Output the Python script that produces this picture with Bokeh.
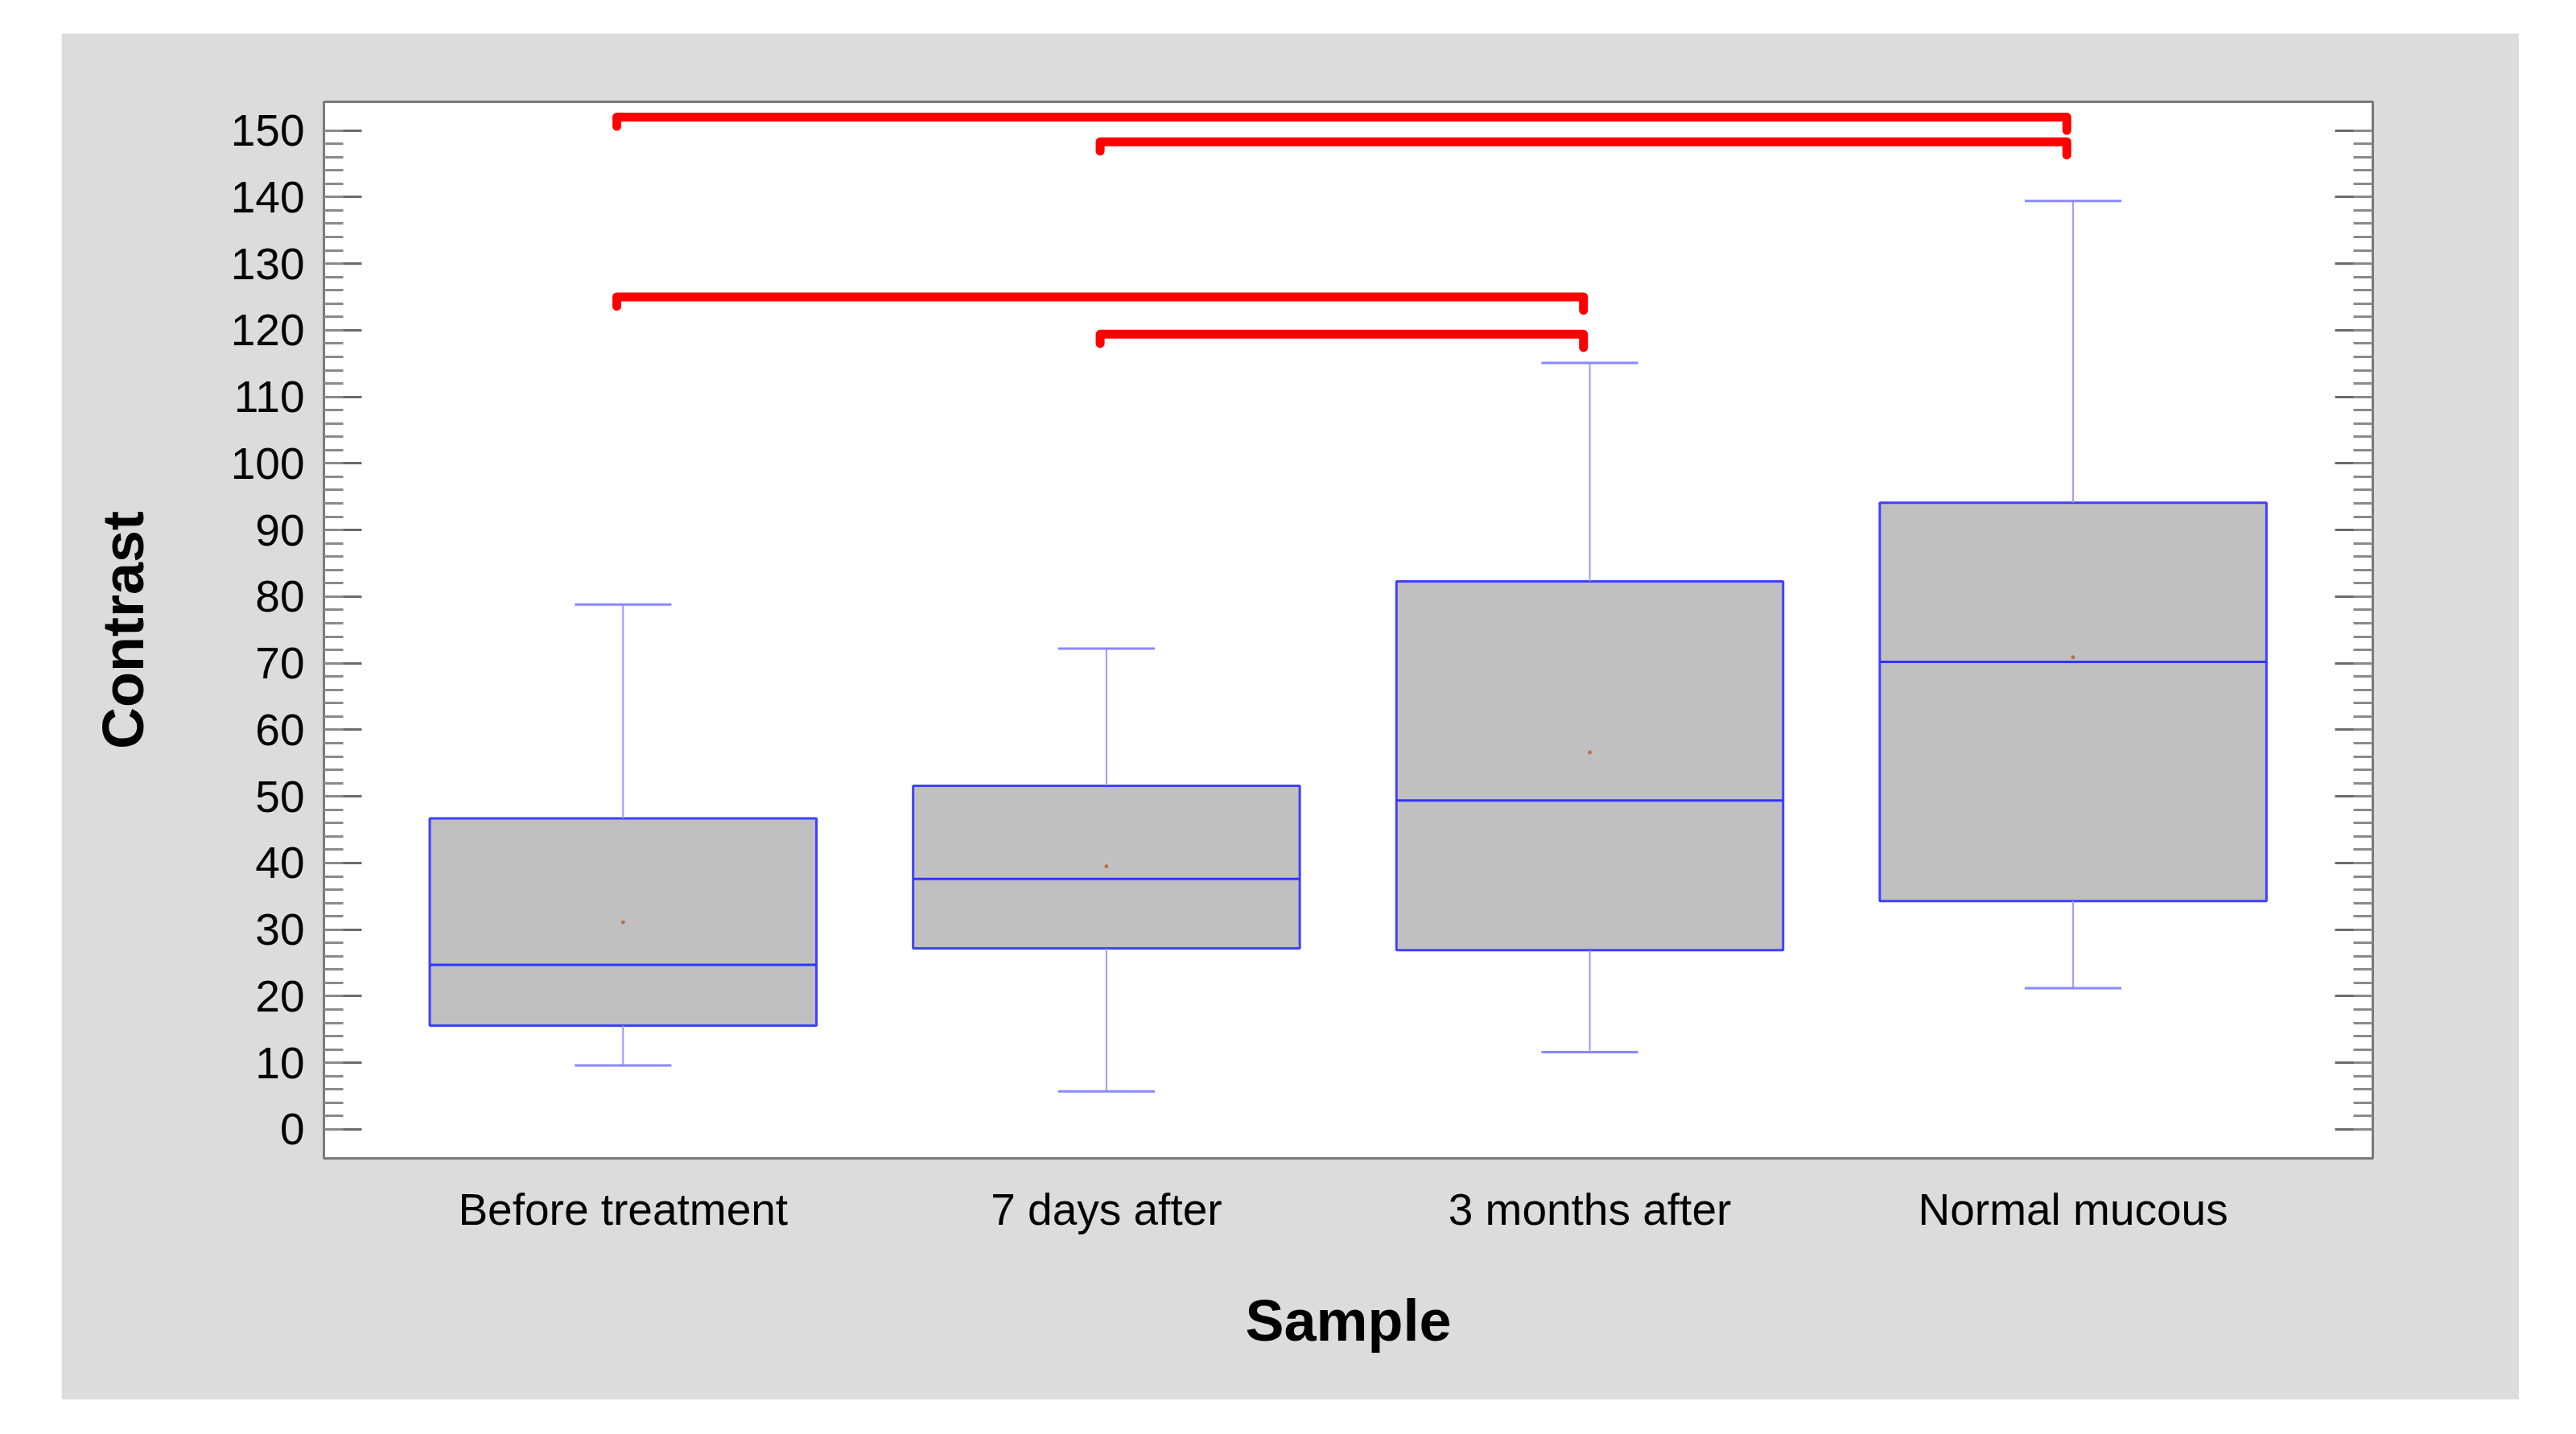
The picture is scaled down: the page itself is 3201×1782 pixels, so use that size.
from bokeh.plotting import figure
from bokeh.models import Range1d, FixedTicker, LinearAxis
from bokeh.embed import file_html
from bokeh.resources import INLINE

categories = ["Before treatment", "7 days after", "3 months after", "Normal mucous"]
lower_whisker = [9.6, 5.7, 11.6, 21.2]
q1 = [15.6, 27.2, 26.9, 34.3]
median = [24.7, 37.6, 49.4, 70.2]
q3 = [46.7, 51.6, 82.3, 94.1]
upper_whisker = [78.8, 72.2, 115.1, 139.4]
mean = [31.1, 39.5, 56.6, 70.9]

# significance brackets: (group a, group b, height)
bracket_from = [1, 2, 1, 2]
bracket_to = [4, 4, 3, 3]
bracket_height = [152.0, 148.3, 125.0, 119.4]

y_ticks = list(range(0, 151, 10))
y_minor = list(range(0, 151, 2))

pos = [i + 1 for i in range(len(categories))]

NARROW = "'Liberation Sans Narrow', 'Arial Narrow', 'Liberation Sans', sans-serif"
BOLD = "'Liberation Sans', Arial, sans-serif"

p = figure(width=3054, height=1698, output_backend="svg", toolbar_location=None,
           x_range=Range1d(0.381, 4.62), y_range=Range1d(-4.35, 154.3),
           min_border_left=326, min_border_right=182, min_border_top=85, min_border_bottom=300)
p.margin = (41, 0, 0, 76)
p.background_fill_color = "white"
p.border_fill_color = "#dcdcdc"
p.outline_line_color = "#7a7a7a"
p.outline_line_width = 3
p.xgrid.visible = False
p.ygrid.visible = False

# boxes
p.vbar(x=pos, width=0.8, bottom=q1, top=q3, fill_color="#c0c0c0",
       line_color="#4040ff", line_width=3)
p.segment(x0=[x - 0.4 for x in pos], x1=[x + 0.4 for x in pos], y0=median, y1=median,
          line_color="#3333ff", line_width=3)
# whiskers
p.segment(x0=pos, x1=pos, y0=q3, y1=upper_whisker, line_color="#9a9aff", line_width=2)
p.segment(x0=pos, x1=pos, y0=q1, y1=lower_whisker, line_color="#9a9aff", line_width=2)
p.segment(x0=[x - 0.1 for x in pos], x1=[x + 0.1 for x in pos], y0=upper_whisker,
          y1=upper_whisker, line_color="#8888ff", line_width=3)
p.segment(x0=[x - 0.1 for x in pos], x1=[x + 0.1 for x in pos], y0=lower_whisker,
          y1=lower_whisker, line_color="#8888ff", line_width=3)
# mean
p.scatter(x=pos, y=mean, size=4, marker="circle", color="#b8704a")

# brackets
xs, ys = [], []
for a, b, h in zip(bracket_from, bracket_to, bracket_height):
    xa = a - 0.013
    xb = b - 0.013
    xs.append([xa, xa, xb, xb])
    ys.append([h - 1.4, h, h, h - 2.0])
p.multi_line(xs=xs, ys=ys, line_color="#ff0000", line_width=11,
             line_cap="round", line_join="round")

# axes
xa_ = p.xaxis[0]
xa_.ticker = FixedTicker(ticks=pos)
xa_.major_label_overrides = {x: c for x, c in zip(pos, categories)}
xa_.major_tick_line_color = None
xa_.minor_tick_line_color = None
xa_.axis_line_color = None
xa_.major_label_text_font = NARROW
xa_.major_label_text_font_size = "55px"
xa_.major_label_text_color = "black"
xa_.major_label_standoff = 26
xa_.axis_label = "Sample"
xa_.axis_label_text_font = BOLD
xa_.axis_label_text_font_style = "bold"
xa_.axis_label_text_font_size = "72px"
xa_.axis_label_text_color = "black"
xa_.axis_label_standoff = 64

ya = p.yaxis[0]
ya.ticker = FixedTicker(ticks=y_ticks, minor_ticks=y_minor)
ya.axis_line_color = None
ya.major_tick_in = 47
ya.major_tick_out = 0
ya.minor_tick_in = 24
ya.minor_tick_out = 0
ya.major_tick_line_color = "#6a6a6a"
ya.major_tick_line_width = 3
ya.minor_tick_line_color = "#8a8a8a"
ya.minor_tick_line_width = 3
ya.major_label_text_font = NARROW
ya.major_label_text_font_size = "55px"
ya.major_label_text_color = "black"
ya.major_label_standoff = 24
ya.axis_label = "Contrast"
ya.axis_label_text_font = BOLD
ya.axis_label_text_font_style = "bold"
ya.axis_label_text_font_size = "72px"
ya.axis_label_text_color = "black"
ya.axis_label_standoff = 91

ra = LinearAxis(ticker=FixedTicker(ticks=y_ticks, minor_ticks=y_minor))
ra.axis_line_color = None
ra.major_tick_in = 47
ra.major_tick_out = 0
ra.minor_tick_in = 24
ra.minor_tick_out = 0
ra.major_tick_line_color = "#6a6a6a"
ra.major_tick_line_width = 3
ra.minor_tick_line_color = "#8a8a8a"
ra.minor_tick_line_width = 3
ra.major_label_text_color = None
ra.major_label_text_font_size = "1px"
ra.major_label_standoff = 0
p.add_layout(ra, "right")

open("out.html", "w").write(file_html(p, INLINE))
